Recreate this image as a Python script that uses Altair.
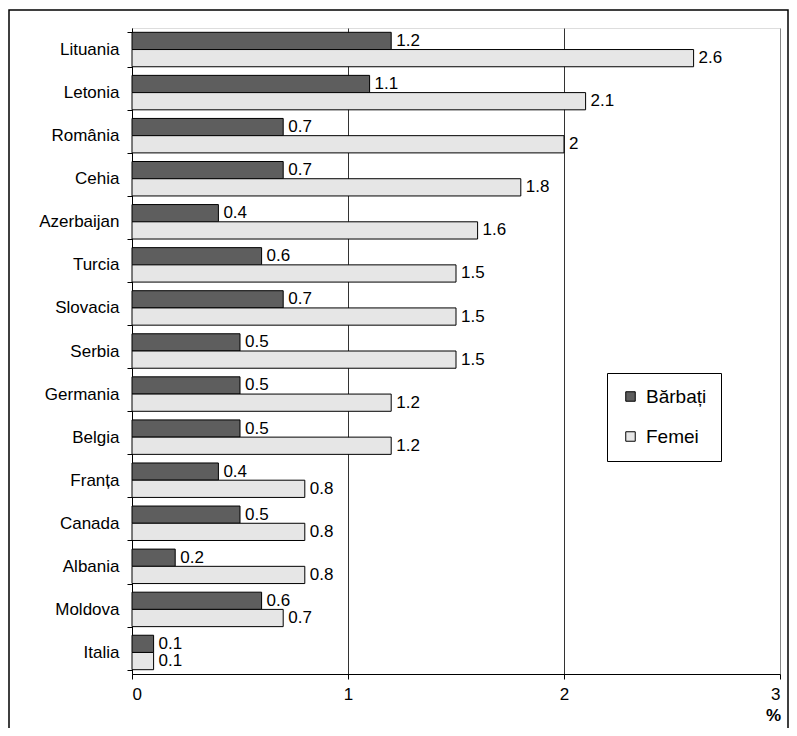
import altair as alt
import pandas as pd

countries = ["Lituania", "Letonia", "România", "Cehia", "Azerbaijan", "Turcia", "Slovacia",
             "Serbia", "Germania", "Belgia", "Franța", "Canada", "Albania", "Moldova", "Italia"]
barbati = [1.2, 1.1, 0.7, 0.7, 0.4, 0.6, 0.7, 0.5, 0.5, 0.5, 0.4, 0.5, 0.2, 0.6, 0.1]
femei = [2.6, 2.1, 2.0, 1.8, 1.6, 1.5, 1.5, 1.5, 1.2, 1.2, 0.8, 0.8, 0.8, 0.7, 0.1]
series = ["Bărbați", "Femei"]
colors = ["#5e5e5e", "#e6e6e6"]

rows = []
for c, b, f in zip(countries, barbati, femei):
    rows.append({"Tara": c, "Gen": series[0], "Val": b})
    rows.append({"Tara": c, "Gen": series[1], "Val": f})
df = pd.DataFrame(rows)

FONT = "Liberation Sans"

y_enc = alt.Y("Tara:N", sort=countries,
              scale=alt.Scale(paddingInner=0.2, paddingOuter=0.1),
              axis=alt.Axis(title=None, labelFontSize=17, labelColor="black", labelFont=FONT,
                            tickColor="black", domainColor="black", tickSize=5,
                            tickBand="extent", labelPadding=8, grid=False))
yoff_enc = alt.YOffset("Gen:N", sort=series, scale=alt.Scale(paddingInner=0, paddingOuter=0))
x_enc = alt.X("Val:Q", scale=alt.Scale(domain=[0, 3], nice=False),
              axis=alt.Axis(values=[0, 1, 2, 3], format="d", title="%", titleFontWeight="bold",
                            titleFontSize=17, titleFont=FONT, titleColor="black",
                            titleX=641, titleY=46, titleAlign="center", titleBaseline="alphabetic",
                            labelFontSize=17, labelFont=FONT, labelColor="black",
                            labelPadding=7, tickSize=5, tickColor="black",
                            domainColor="black", grid=True,
                            gridColor={"condition": {"test": "datum.value >= 3 || datum.value <= 0", "value": "#888888"}, "value": "#333333"},
                            gridWidth=1))

bars = alt.Chart(df).mark_bar(stroke="black", strokeWidth=1).encode(
    y=y_enc, yOffset=yoff_enc, x=x_enc,
    color=alt.Color("Gen:N", sort=series,
                    scale=alt.Scale(domain=series, range=colors),
                    legend=alt.Legend(title=None, orient="none", legendX=475, legendY=345,
                                      fillColor="white", strokeColor="black", padding=14,
                                      labelFontSize=19, labelFont=FONT, labelColor="black",
                                      symbolType="square", symbolSize=90,
                                      symbolStrokeColor="black", symbolStrokeWidth=1,
                                      rowPadding=20, labelOffset=6)),
)

labels = alt.Chart(df).mark_text(align="left", baseline="middle", dx=5, fontSize=17,
                                 font=FONT, color="black").encode(
    y=alt.Y("Tara:N", sort=countries), yOffset=alt.YOffset("Gen:N", sort=series),
    x="Val:Q", text=alt.Text("Val:Q"))

border = alt.Chart(alt.Data(values=[{"a": 1}])).mark_rect(
    fill="white", fillOpacity=0, stroke="black", strokeWidth=1.5).encode(
    x=alt.value(-123), x2=alt.value(656), y=alt.value(-18), y2=alt.value(760))

chart = alt.layer(bars, labels, border).properties(
    width=648, height=646,
    padding={"left": 124, "top": 20, "right": 9, "bottom": 54},
    autosize=alt.AutoSizeParams(type="none"),
).configure_view(stroke="#888888", strokeWidth=1).configure(background="white")

chart.save("out.html", embed_options={"renderer": "svg", "actions": False})
